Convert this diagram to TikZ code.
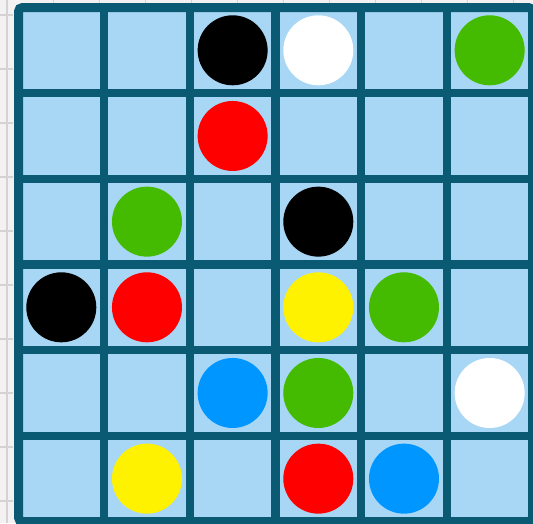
\documentclass[tikz,border=0pt]{standalone}
\usepackage{tikz}

\definecolor{rim}{RGB}{10,90,115}
\definecolor{cellblue}{RGB}{168,214,245}
\definecolor{sheet}{RGB}{243,241,241}
\definecolor{ruler}{RGB}{212,210,210}
\definecolor{pgreen}{RGB}{68,187,0}
\definecolor{pblue}{RGB}{0,150,255}

\begin{document}
\begin{tikzpicture}[x=1pt, y=-1pt,
    piece/.style={circle, minimum size=70pt, inner sep=0pt, draw=none},
    gridline/.style={rim, line width=8.5pt}]
    \useasboundingbox (0,0) rectangle (533,523);

    % Hoja de fondo
    \fill[sheet] (0,0) rectangle (533,523);
    \draw[ruler, line width=1.5pt] (7,0) -- (7,523);
    \foreach \y in {15,69,...,501}
        \draw[ruler, line width=1.2pt] (0,\y) -- (13,\y);
    \foreach \x in {53,99,...,513}
        \draw[ruler, line width=0.8pt] (\x,0) -- (\x,3);

    % Tablero
    \begin{scope}
        \clip (0,0) rectangle (533,523);
        \fill[cellblue] (18.5,7.5) rectangle (532.5,521.5);
        \foreach \i in {1,...,5} {
            \draw[gridline] ({18.5+85.67*\i},7.5) -- ({18.5+85.67*\i},521.5);
            \draw[gridline] (18.5,{7.5+85.67*\i}) -- (532.5,{7.5+85.67*\i});
        }
        \draw[rim, line width=9pt, rounded corners=4pt] (18.5,7.5) rectangle (532.5,521.5);
    \end{scope}

    % Fichas (fila/columna/color)
    \foreach \r/\c/\col in {0/2/black, 0/3/white, 0/5/pgreen,
                            1/2/red,
                            2/1/pgreen, 2/3/black,
                            3/0/black, 3/1/red, 3/3/yellow, 3/4/pgreen,
                            4/2/pblue, 4/3/pgreen, 4/5/white,
                            5/1/yellow, 5/3/red, 5/4/pblue}
        \node[piece, fill=\col] (p\r\c) at ({61.3+85.67*\c},{50.3+85.67*\r}) {};
\end{tikzpicture}
\end{document}
